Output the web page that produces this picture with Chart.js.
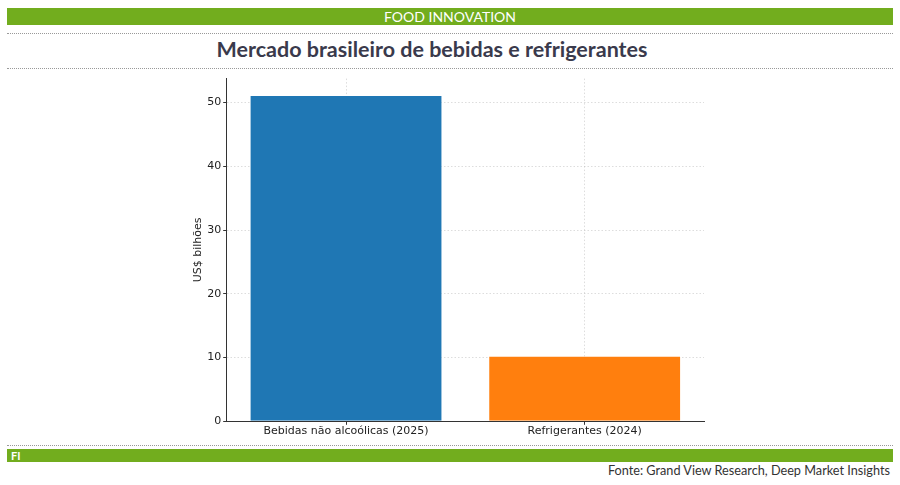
<!DOCTYPE html>
<html>
<head>
<meta charset="utf-8">
<script src="https://cdn.jsdelivr.net/npm/chart.js@4.4.1/dist/chart.umd.min.js"></script>
<style>
  body { margin: 0; width: 900px; height: 485px; background: #fff; position: relative; overflow: hidden; font-family: 'DejaVu Sans', sans-serif; }
  .band { position: absolute; left: 7px; width: 886px; background: #72ad1e; color: #fff; font-family: 'Lato', sans-serif; }
  #top { top: 8px; height: 17px; line-height: 17px; text-align: center; font-size: 14px; }
  #bottom { top: 449px; height: 13px; line-height: 13px; font-size: 11px; padding-left: 4px; box-sizing: border-box; font-weight: bold; }
  .rule { position: absolute; left: 7px; width: 886px; border-top: 1px dotted #999; }
  #title { position: absolute; top: 36px; left: 0; width: 864px; text-align: center; font-family: 'Lato', sans-serif; font-weight: bold; font-size: 21.5px; color: #3a3a4c; }
  #source { position: absolute; top: 462px; right: 10px; font-family: 'Lato', sans-serif; font-size: 12.7px; color: #333; }
  #wrap { position: absolute; left: 180px; top: 70px; width: 540px; height: 372px; }
</style>
</head>
<body>
<div class="band" id="top">FOOD INNOVATION</div>
<div class="rule" style="top:33px"></div>
<div id="title">Mercado brasileiro de bebidas e refrigerantes</div>
<div class="rule" style="top:68px"></div>
<div id="wrap"><canvas id="chart"></canvas></div>
<div class="rule" style="top:445px"></div>
<div class="band" id="bottom">FI</div>
<div id="source">Fonte: Grand View Research, Deep Market Insights</div>
<script>
const categories = ['Bebidas não alcoólicas (2025)', 'Refrigerantes (2024)']
const values = [51.2, 10.3]
const barColors = ['#1f77b4', '#ff7f0e']
const yTicks = [0, 10, 20, 30, 40, 50]

new Chart(document.getElementById('chart'), {
  type: 'bar',
  data: {
    labels: categories,
    datasets: [
      {
        data: values,
        backgroundColor: barColors,
        borderColor: 'rgba(255,255,255,0.5)',
        borderWidth: 1,
        categoryPercentage: 1.0,
        barPercentage: 0.808
      }
    ]
  },
  options: {
    responsive: true,
    maintainAspectRatio: false,
    animation: false,
    layout: { padding: { top: 6, right: 16, bottom: 4, left: 12 } },
    plugins: { legend: { display: false }, tooltip: { enabled: false } },
    scales: {
      x: {
        z: 1,
        grid: { offset: false, color: 'rgba(180,180,180,0.45)', tickLength: 3.5, tickColor: '#333', tickBorderDash: [] },
        border: { color: '#333', width: 1, dash: [1.5, 2] },
        ticks: { color: '#222', font: { family: 'DejaVu Sans', size: 11 }, padding: 0 }
      },
      y: {
        z: 1,
        min: 0,
        max: 53.76,
        afterBuildTicks: axis => { axis.ticks = yTicks.map(v => ({ value: v })) },
        grid: { color: 'rgba(180,180,180,0.45)', tickColor: '#333', tickLength: 3.5, tickBorderDash: [] },
        border: { color: '#333', width: 1, dash: [1.5, 2] },
        ticks: { color: '#222', font: { family: 'DejaVu Sans', size: 11 }, padding: 2 },
        title: { display: true, text: 'US$ bilhões', color: '#222', font: { family: 'DejaVu Sans', size: 11 }, padding: { top: 0, bottom: 0 } }
      }
    }
  }
})
</script>
</body>
</html>
